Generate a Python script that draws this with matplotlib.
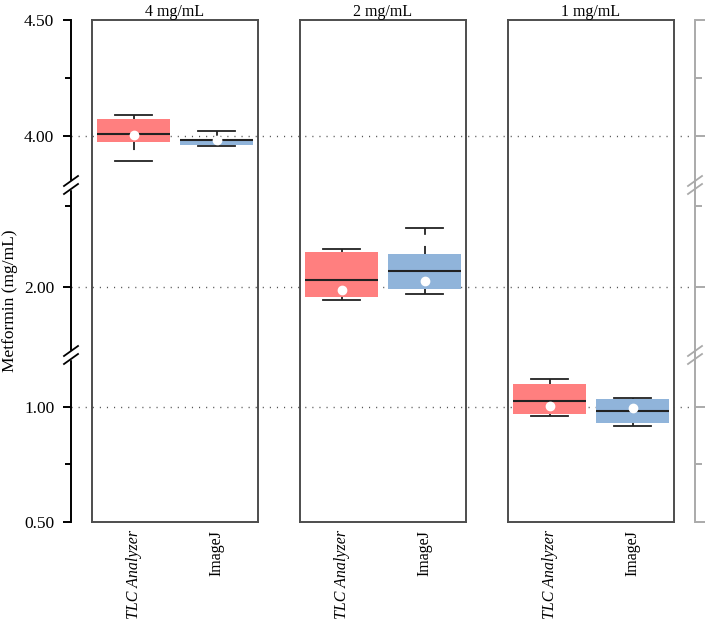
import numpy as np
import matplotlib
matplotlib.use("Agg")
import matplotlib.pyplot as plt

# Data (Metformin, mg/mL)
concentrations = ["4 mg/mL", "2 mg/mL", "1 mg/mL"]
methods = ["TLC Analyzer", "ImageJ"]
# each row: [TLC Analyzer, ImageJ]
whis_high = [[4.092, 4.023], [2.118, 2.183], [1.122, 1.040]]
q3 = [[4.073, 3.987], [2.109, 2.102], [1.100, 1.033]]
median = [[4.007, 3.984], [2.023, 2.048], [1.027, 0.984]]
mean = [[4.004, 3.981], [1.991, 2.018], [1.006, 0.994]]
q1 = [[3.973, 3.961], [1.969, 1.994], [0.970, 0.929]]
whis_low = [[3.894, 3.958], [1.961, 1.979], [0.962, 0.916]]

major_ticks = [0.5, 1.0, 2.0, 4.0, 4.5]
minor_ticks = [0.75, 2.25, 4.25]
grid_values = [1.0, 2.0, 4.0]

colors = ["#ff7f7f", "#90b4da"]

# broken axis: three linear pieces glued together
seg_values = [0.5, 1.226, 1.79, 2.315, 3.789, 4.5]
seg_pos = [0.0, 167.0, 167.01, 337.0, 337.01, 502.0]


def fwd(v):
    return np.interp(v, seg_values, seg_pos)


def inv(p):
    return np.interp(p, seg_pos, seg_values)


plt.rcParams["font.family"] = ["Liberation Serif", "DejaVu Serif"]
plt.rcParams["lines.scale_dashes"] = False

W, H = 705, 620
fig = plt.figure(figsize=(W / 100, H / 100), dpi=100)

top_px, bot_px = 20, 522
ax_bottom = (H - bot_px) / H
ax_height = (bot_px - top_px) / H


def setup_y(ax):
    ax.set_yscale("function", functions=(fwd, inv))
    ax.set_ylim(0.5, 4.5)


# background axis: left scale, right grey scale, dotted grid
x_left, x_right = 71, 695
bg = fig.add_axes([x_left / W, ax_bottom, (x_right - x_left) / W, ax_height])
setup_y(bg)
bg.set_xlim(0, 1)
bg.set_xticks([])
for s in ["top", "bottom", "right"]:
    bg.spines[s].set_visible(False)
bg.spines["left"].set_linewidth(1.4)
bg.set_yticks(major_ticks)
bg.set_yticklabels([f"{v:.2f}" for v in major_ticks])
bg.set_yticks(minor_ticks, minor=True)
bg.yaxis.set_minor_formatter(plt.NullFormatter())
bg.tick_params(axis="y", which="major", length=6, width=1.4, labelsize=12.5, pad=6)
bg.tick_params(axis="y", which="minor", length=4, width=1.4)
for v in grid_values:
    bg.axhline(v, color="#555555", lw=1.0, linestyle=(0, (0.8, 4.3)), zorder=0)

rt = bg.twinx()
setup_y(rt)
for s in ["top", "bottom", "left"]:
    rt.spines[s].set_visible(False)
rt.spines["right"].set_color("#aaaaaa")
rt.spines["right"].set_linewidth(1.4)
rt.set_yticks(major_ticks)
rt.set_yticks(minor_ticks, minor=True)
rt.yaxis.set_major_formatter(plt.NullFormatter())
rt.yaxis.set_minor_formatter(plt.NullFormatter())
rt.tick_params(axis="y", which="major", length=8, width=1.4, color="#aaaaaa")
rt.tick_params(axis="y", which="minor", length=5, width=1.4, color="#aaaaaa")

# break marks on both scale lines
px_x = 1 / (x_right - x_left)
px_y = 1 / (bot_px - top_px)
for brk in [seg_pos[1], seg_pos[3]]:
    yb = brk / seg_pos[-1]
    for xa, col in [(0.0, "black"), (1.0, "#aaaaaa")]:
        bg.add_patch(plt.Rectangle((xa - 2 * px_x, yb - 4 * px_y), 4 * px_x, 8 * px_y,
                                   transform=bg.transAxes, color="white", clip_on=False, zorder=5))
        for off in (-4, 4):
            bg.plot([xa - 7 * px_x, xa + 7 * px_x],
                    [yb + (off - 5) * px_y, yb + (off + 5) * px_y],
                    transform=bg.transAxes, color=col, lw=1.3, clip_on=False, zorder=6)

fig.text(10 / W, (H - 301) / H, "Metformin (mg/mL)", rotation=90,
         ha="center", va="center", fontsize=12.5)

# the three concentration panels
panel_lefts = [92, 300, 508]
panel_w = 166
for i, conc in enumerate(concentrations):
    ax = fig.add_axes([panel_lefts[i] / W, ax_bottom, panel_w / W, ax_height])
    setup_y(ax)
    ax.set_xlim(-0.5, 1.5)
    ax.patch.set_alpha(0)
    for s in ax.spines.values():
        s.set_color("#4d4d4d")
        s.set_linewidth(1.4)
    ax.set_yticks([])
    ax.set_yticks([], minor=True)

    stats = []
    for j in range(2):
        stats.append(dict(med=median[i][j], q1=q1[i][j], q3=q3[i][j],
                          whislo=whis_low[i][j], whishi=whis_high[i][j],
                          mean=mean[i][j], fliers=[]))
    bp = ax.bxp(stats, positions=[0, 1], widths=0.88, capwidths=0.44,
                patch_artist=True, showmeans=True, showfliers=False,
                boxprops=dict(linewidth=0),
                medianprops=dict(color="#222222", linewidth=1.5),
                whiskerprops=dict(color="#222222", linewidth=1.3, linestyle=(0, (5.8, 8))),
                capprops=dict(color="#222222", linewidth=1.3),
                meanprops=dict(marker="o", markerfacecolor="white",
                               markeredgecolor="white", markersize=6))
    for patch, c in zip(bp["boxes"], colors):
        patch.set_facecolor(c)
        patch.set_edgecolor(c)

    ax.set_xticks([0, 1])
    ax.set_xticklabels(methods, rotation=90, fontsize=11.5, va="top")
    ax.get_xticklabels()[0].set_style("italic")
    ax.tick_params(axis="x", length=0, pad=6)
    ax.set_title(conc, fontsize=11.5, pad=3)

fig.savefig("out.png", dpi=100)
